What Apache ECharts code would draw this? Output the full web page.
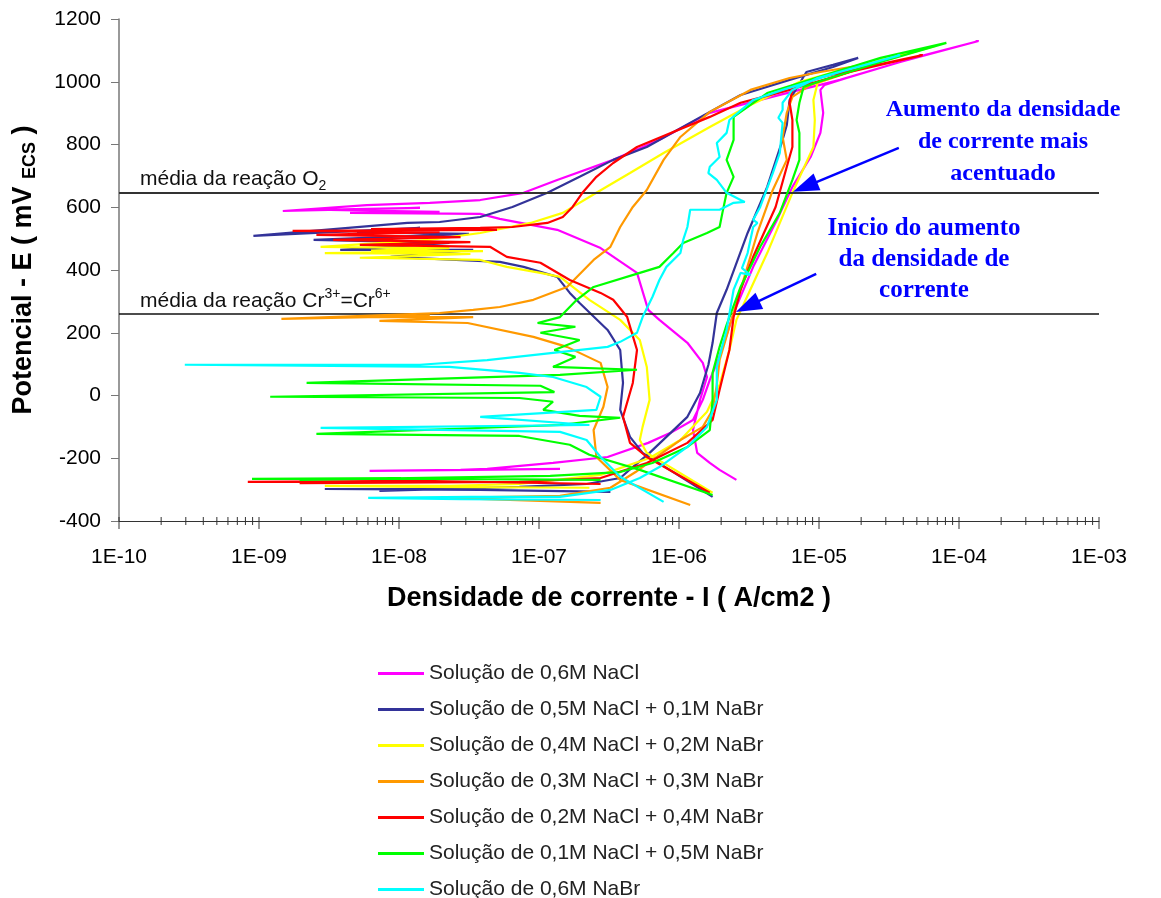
<!DOCTYPE html>
<html>
<head>
<meta charset="utf-8">
<title>Curvas de polarização</title>
<script src="https://cdn.jsdelivr.net/npm/echarts@6.0.0/dist/echarts.min.js"></script>
<style>
  html, body { margin: 0; padding: 0; background: #fff; }
  #chart { width: 1161px; height: 898px; }
</style>
</head>
<body>
<div id="chart"></div>
<script>
// each point: [log10 I (A/cm2), E (mV ECS)], in scan order (ida + volta)
var naCl06 = [
  [-6.85,-234],[-7.49,-237],[-8.21,-240],[-7.56,-237],[-7.37,-234],[-6.90,-215],[-6.51,-196],[-6.22,-151],
  [-6.06,-119],[-5.90,-78],[-5.83,-14],[-5.78,50],[-5.72,113],[-5.66,193],[-5.61,263],[-5.47,410],[-5.30,560],
  [-5.19,665],[-5.06,760],[-4.99,837],[-4.97,901],[-4.99,974],[-4.96,990],[-4.78,1015],[-4.30,1079],[-3.86,1130],
  [-4.42,1063],[-4.85,1006],[-5.28,958],[-5.78,901],[-6.14,815],[-6.47,751],[-6.87,687],[-7.11,646],[-7.42,623],
  [-7.78,614],[-8.23,607],[-8.83,588],[-7.85,598],[-8.59,592],[-7.71,585],[-8.35,582],[-7.42,579],[-7.28,563],
  [-6.87,528],[-6.56,470],[-6.30,391],[-6.22,273],[-6.14,241],[-5.94,168],[-5.83,104],[-5.80,59],[-5.85,-14],
  [-5.90,-110],[-5.87,-183],[-5.78,-215],[-5.71,-237],[-5.59,-269]
];
var naCl05 = [
  [-6.49,-307],[-7.42,-301],[-8.53,-298],[-7.71,-298],[-8.14,-304],[-7.14,-291],[-6.66,-282],[-6.42,-263],
  [-6.33,-228],[-6.21,-183],[-6.09,-132],[-5.94,-68],[-5.85,8],[-5.79,98],[-5.76,168],[-5.73,263],[-5.66,337],
  [-5.51,518],[-5.37,665],[-5.26,815],[-5.23,862],[-5.21,942],[-5.09,1031],[-4.90,1054],[-4.72,1076],
  [-4.90,1047],[-5.21,1006],[-5.56,958],[-5.78,904],[-6.23,792],[-6.47,751],[-6.71,697],[-6.94,646],[-7.19,601],
  [-7.42,569],[-7.71,553],[-7.94,550],[-9.04,509],[-7.85,534],[-8.30,520],[-7.50,515],[-8.61,496],[-7.64,486],
  [-8.42,464],[-7.47,464],[-8.06,442],[-7.28,426],[-7.11,410],[-6.87,378],[-6.78,327],[-6.71,295],[-6.51,209],
  [-6.42,145],[-6.40,40],[-6.42,-46],[-6.35,-132],[-6.26,-183],[-5.76,-323]
];
var naCl04 = [
  [-6.64,-294],[-7.85,-291],[-8.53,-288],[-7.64,-288],[-7.14,-282],[-6.56,-253],[-6.21,-199],[-5.99,-142],
  [-5.80,-52],[-5.71,34],[-5.64,145],[-5.59,241],[-5.54,289],[-5.37,454],[-5.19,646],[-5.04,792],[-5.03,878],
  [-5.04,942],[-5.01,996],[-4.64,1054],[-4.17,1114],
  [-4.64,1063],[-5.14,999],[-5.49,926],[-5.78,856],[-6.11,773],[-6.35,709],[-6.59,646],[-6.83,582],[-7.06,550],
  [-7.42,518],[-7.78,496],[-8.56,474],[-7.64,470],[-8.20,462],[-7.40,460],[-8.53,454],[-7.49,451],[-8.28,439],
  [-7.42,432],[-7.23,410],[-6.99,391],[-6.85,378],[-6.64,305],[-6.42,241],[-6.28,177],[-6.23,91],[-6.21,-14],
  [-6.26,-100],[-6.28,-142],[-6.23,-183],[-5.76,-310]
];
var naCl03 = [
  [-6.56,-342],[-7.64,-326],[-6.85,-320],[-6.49,-294],[-6.31,-244],[-6.19,-205],[-5.99,-142],[-5.83,-100],
  [-5.76,-46],[-5.73,34],[-5.71,113],[-5.64,219],[-5.56,337],[-5.44,518],[-5.33,655],[-5.23,751],[-5.26,824],
  [-5.23,901],[-5.19,952],[-5.06,990],[-4.56,1063],
  [-4.99,1031],[-5.21,1012],[-5.49,974],[-5.78,904],[-5.99,824],[-6.11,751],[-6.23,655],[-6.33,601],[-6.42,537],
  [-6.49,474],[-6.61,432],[-6.80,346],[-7.04,305],[-7.28,282],[-7.47,273],[-7.71,263],[-8.84,244],[-7.78,254],
  [-8.42,250],[-7.47,250],[-8.14,238],[-7.51,231],[-7.04,187],[-6.80,155],[-6.56,104],[-6.51,27],[-6.54,-36],
  [-6.61,-110],[-6.59,-196],[-6.42,-269],[-5.92,-349]
];
var naCl02 = [
  [-6.56,-282],[-7.85,-272],[-9.08,-275],[-8.14,-275],[-8.71,-279],[-7.14,-275],[-6.56,-263],[-6.23,-215],
  [-5.94,-151],[-5.76,-78],[-5.71,18],[-5.64,145],[-5.61,250],[-5.56,337],[-5.47,442],[-5.31,601],[-5.23,729],
  [-5.19,792],[-5.19,878],[-5.21,933],[-5.19,974],[-5.01,1012],[-4.66,1047],[-4.26,1085],
  [-4.78,1031],[-5.21,974],[-5.56,933],[-5.78,888],[-6.30,792],[-6.47,741],[-6.59,697],[-6.69,646],[-6.76,601],
  [-6.83,569],[-6.94,550],[-7.19,537],[-7.42,534],[-8.20,530],[-7.30,528],[-8.76,525],[-7.71,521],[-8.59,512],
  [-7.56,505],[-8.47,496],[-7.49,489],[-8.28,480],[-7.35,474],[-7.23,442],[-6.99,423],[-6.78,368],[-6.56,327],
  [-6.47,305],[-6.37,250],[-6.30,145],[-6.33,40],[-6.40,-68],[-6.35,-151],[-6.23,-196],[-5.78,-310]
];
var naCl01 = [
  [-6.56,-269],[-7.78,-266],[-9.05,-266],[-7.99,-263],[-8.71,-269],[-6.92,-256],[-6.42,-244],[-6.19,-215],
  [-5.94,-164],[-5.78,-110],[-5.76,-14],[-5.76,72],[-5.71,155],[-5.66,225],[-5.56,346],[-5.42,474],[-5.28,582],
  [-5.19,687],[-5.14,751],[-5.14,837],[-5.16,878],[-5.14,933],[-5.11,983],[-5.01,999],[-4.56,1063],[-4.09,1124],
  [-4.56,1076],[-5.14,996],[-5.37,964],[-5.61,888],[-5.61,815],[-5.66,751],[-5.61,697],[-5.66,646],[-5.69,582],
  [-5.71,537],[-5.80,518],[-5.97,486],[-6.04,454],[-6.14,410],[-6.28,391],[-6.61,346],[-6.73,305],[-6.85,250],
  [-7.01,231],[-6.74,219],[-6.99,200],[-6.71,177],[-6.89,145],[-6.74,123],[-6.90,91],[-6.30,82],[-6.85,66],
  [-8.66,40],[-6.99,31],[-6.89,11],[-8.92,-4],[-7.14,-8],[-6.90,-20],[-6.97,-46],[-6.71,-65],[-6.42,-71],
  [-6.85,-94],[-8.59,-122],[-7.14,-129],[-6.78,-157],[-6.64,-189],[-6.28,-237],[-5.76,-317]
];
var naBr06 = [
  [-6.56,-333],[-7.56,-330],[-8.22,-326],[-7.49,-323],[-6.85,-323],[-6.49,-301],[-6.28,-263],[-6.14,-228],
  [-5.94,-164],[-5.80,-100],[-5.73,-14],[-5.73,91],[-5.66,209],[-5.61,337],[-5.56,391],[-5.49,384],[-5.55,406],
  [-5.51,454],[-5.47,537],[-5.44,550],[-5.47,560],[-5.42,601],[-5.33,709],[-5.28,773],[-5.26,869],[-5.29,885],
  [-5.26,910],[-5.26,933],[-5.19,974],[-5.01,1012],[-4.42,1085],
  [-4.85,1031],[-5.26,974],[-5.47,942],[-5.64,878],[-5.66,837],[-5.73,805],[-5.71,760],[-5.78,729],[-5.79,709],
  [-5.73,687],[-5.66,646],[-5.56,623],[-5.53,617],[-5.61,614],[-5.71,592],[-5.92,592],[-5.94,537],[-5.97,496],
  [-5.99,454],[-6.09,410],[-6.14,368],[-6.19,314],[-6.26,250],[-6.30,200],[-6.42,171],[-6.51,155],[-6.90,136],
  [-7.37,113],[-7.85,98],[-9.53,98],[-7.64,91],[-7.14,72],[-6.90,59],[-6.66,27],[-6.56,-4],[-6.59,-46],
  [-7.42,-68],[-6.64,-94],[-8.56,-103],[-6.85,-116],[-6.66,-142],[-6.56,-196],[-6.42,-259],[-6.11,-339]
];

var seriesNames = [
  'Solução de 0,6M NaCl',
  'Solução de 0,5M NaCl + 0,1M NaBr',
  'Solução de 0,4M NaCl + 0,2M NaBr',
  'Solução de 0,3M NaCl + 0,3M NaBr',
  'Solução de 0,2M NaCl + 0,4M NaBr',
  'Solução de 0,1M NaCl + 0,5M NaBr',
  'Solução de 0,6M NaBr'
];
var seriesColors = ['#FF00FF', '#333399', '#FFFF00', '#FF9900', '#FF0000', '#00FF00', '#00FFFF'];
var seriesData = [naCl06, naCl05, naCl04, naCl03, naCl02, naCl01, naBr06];

var xDecades = [-10, -9, -8, -7, -6, -5, -4, -3];
var yMin = -400, yMax = 1200, yStep = 200;

// reference lines (mV)
var eO2 = 645;
var eCr = 260;
// arrows: [log I, E] tail -> head
var arrow1 = [[-4.43, 789], [-5.10, 665]];
var arrow2 = [[-5.02, 388], [-5.51, 284]];

function toXY(p) { return [Math.pow(10, p[0]), p[1]]; }

// log axis ticks (major at decades, minor at 2..9)
var tickData = [];
xDecades.forEach(function (d, i) {
  tickData.push([Math.pow(10, d), yMin, 1]);
  if (i < xDecades.length - 1) {
    for (var k = 2; k <= 9; k++) tickData.push([k * Math.pow(10, d), yMin, 0]);
  }
});

var chart = echarts.init(document.getElementById('chart'), null, { renderer: 'canvas' });

var series = seriesData.map(function (arr, i) {
  return {
    name: seriesNames[i],
    type: 'line',
    data: arr.map(toXY),
    showSymbol: false,
    symbol: 'none',
    smooth: false,
    animation: false,
    color: seriesColors[i],
    lineStyle: { width: 2.2, color: seriesColors[i] },
    z: 2 + i
  };
});

series.push({
  name: 'ticks',
  type: 'custom',
  silent: true,
  animation: false,
  z: 20,
  data: tickData,
  encode: { x: 0, y: 1 },
  renderItem: function (params, api) {
    var p = api.coord([api.value(0), yMin]);
    var major = api.value(2) === 1;
    return {
      type: 'line',
      shape: { x1: p[0], y1: p[1] - 4, x2: p[0], y2: p[1] + (major ? 8 : 4) },
      style: { stroke: '#333', lineWidth: 1 }
    };
  },
  markLine: {
    silent: true,
    animation: false,
    symbol: 'none',
    label: { show: false },
    data: [
      { yAxis: eO2, lineStyle: { color: '#333', width: 2, type: 'solid' } },
      { yAxis: eCr, lineStyle: { color: '#111', width: 1.6, type: 'solid' } },
      [
        { coord: toXY(arrow1[0]), symbol: 'none', lineStyle: { color: '#0000FF', width: 2.5, type: 'solid' } },
        { coord: toXY(arrow1[1]), symbol: 'triangle', symbolSize: [18, 26] }
      ],
      [
        { coord: toXY(arrow2[0]), symbol: 'none', lineStyle: { color: '#0000FF', width: 2.5, type: 'solid' } },
        { coord: toXY(arrow2[1]), symbol: 'triangle', symbolSize: [18, 26] }
      ]
    ]
  }
});

var option = {
  backgroundColor: '#fff',
  animation: false,
  grid: { left: 119, right: 62, top: 19, bottom: 377, containLabel: false, outerBoundsMode: 'none' },
  xAxis: {
    type: 'log',
    logBase: 10,
    min: 1e-10,
    max: 1e-3,
    name: 'Densidade de corrente - I ( A/cm2 )',
    nameLocation: 'middle',
    nameGap: 64,
    nameTextStyle: { fontFamily: 'Liberation Sans', fontWeight: 'bold', fontSize: 27, color: '#000' },
    axisLine: { onZero: false, lineStyle: { color: '#333', width: 1 } },
    axisTick: { show: false },
    splitLine: { show: false },
    minorTick: { show: false },
    axisLabel: {
      margin: 26,
      fontFamily: 'Liberation Sans',
      fontSize: 21,
      color: '#000',
      formatter: function (v) {
        var e = Math.round(Math.log(v) / Math.LN10);
        var s = String(Math.abs(e));
        if (s.length < 2) s = '0' + s;
        return '1E' + (e < 0 ? '-' : '+') + s;
      }
    }
  },
  yAxis: {
    type: 'value',
    min: yMin,
    max: yMax,
    interval: yStep,
    name: 'Potencial - E ( mV {s|ECS} )',
    nameLocation: 'middle',
    nameGap: 80,
    nameTextStyle: {
      fontFamily: 'Liberation Sans', fontWeight: 'bold', fontSize: 27, color: '#000',
      rich: { s: { fontFamily: 'Liberation Sans', fontWeight: 'bold', fontSize: 18, color: '#000', verticalAlign: 'bottom', lineHeight: 30 } }
    },
    axisLine: { show: true, onZero: false, lineStyle: { color: '#777', width: 1.5 } },
    axisTick: { show: true, length: 8, lineStyle: { color: '#777' } },
    splitLine: { show: false },
    axisLabel: {
      margin: 18, fontFamily: 'Liberation Sans', fontSize: 21, color: '#000',
      formatter: function (v) { return String(v); }
    }
  },
  legend: {
    orient: 'vertical',
    left: 378,
    top: 663,
    height: 300,
    width: 500,
    padding: 0,
    itemWidth: 46,
    itemHeight: 3,
    itemGap: 15,
    icon: 'rect',
    data: seriesNames,
    textStyle: { fontFamily: 'Liberation Sans', fontSize: 21, color: '#222' }
  },
  graphic: [
    {
      type: 'text', x: 140, y: 165, silent: true,
      style: {
        text: 'média da reação O{sub|2}',
        font: '21px "Liberation Sans"', fill: '#111', lineHeight: 28,
        rich: { sub: { fontFamily: 'Liberation Sans', fontSize: 14, fill: '#111', verticalAlign: 'bottom', lineHeight: 28 } }
      }
    },
    {
      type: 'text', x: 140, y: 287, silent: true,
      style: {
        text: 'média da reação Cr{sup|3+}=Cr{sup|6+}',
        font: '21px "Liberation Sans"', fill: '#111', lineHeight: 28,
        rich: { sup: { fontFamily: 'Liberation Sans', fontSize: 14, fill: '#111', verticalAlign: 'top', lineHeight: 28 } }
      }
    },
    {
      type: 'text', x: 1003, y: 94, silent: true,
      style: {
        text: 'Aumento da densidade\nde corrente mais\nacentuado',
        font: 'bold 24px "Liberation Serif"', fill: '#0000FF', align: 'center', lineHeight: 32
      }
    },
    {
      type: 'text', x: 924, y: 213, silent: true,
      style: {
        text: 'Inicio do aumento\nda densidade de\ncorrente',
        font: 'bold 25px "Liberation Serif"', fill: '#0000FF', align: 'center', lineHeight: 31
      }
    }
  ],
  series: series
};

chart.setOption(option);
</script>
</body>
</html>
